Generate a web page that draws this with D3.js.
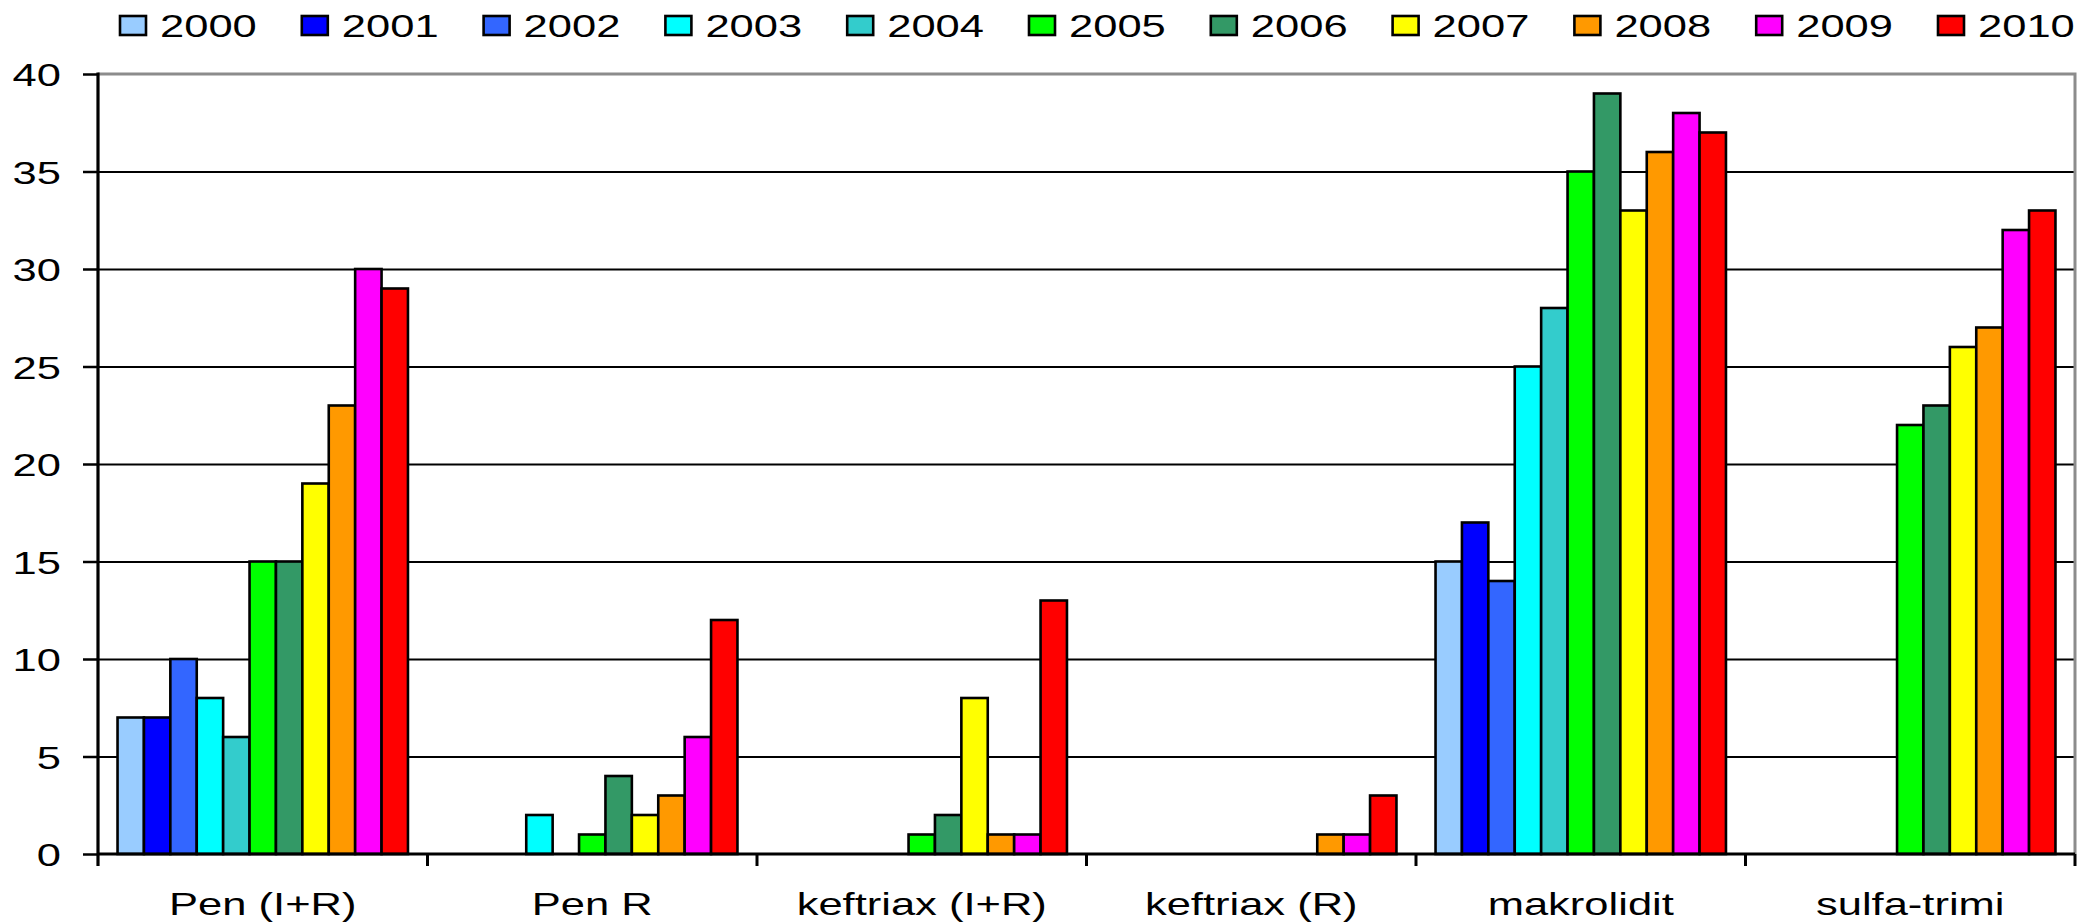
<!DOCTYPE html>
<html>
<head>
<meta charset="utf-8">
<script src="https://cdn.jsdelivr.net/npm/d3@7"></script>
<style>
  html, body { margin: 0; padding: 0; background: #fff; }
  svg { display: block; }
  text { font-family: "Liberation Sans", Arial, sans-serif; fill: #000; }
</style>
</head>
<body>
<svg id="chart" width="2078" height="922"></svg>
<script>
// ---- data ----
const categories = ["Pen (I+R)", "Pen R", "keftriax (I+R)", "keftriax (R)", "makrolidit", "sulfa-trimi"];
const years = ["2000", "2001", "2002", "2003", "2004", "2005", "2006", "2007", "2008", "2009", "2010"];
const yearColors = ["#99CCFF", "#0000FF", "#3366FF", "#00FFFF", "#33CCCC", "#00FF00", "#339966", "#FFFF00", "#FF9900", "#FF00FF", "#FF0000"];
const v2000 = [7, 0, 0, 0, 15, 0];
const v2001 = [7, 0, 0, 0, 17, 0];
const v2002 = [10, 0, 0, 0, 14, 0];
const v2003 = [8, 2, 0, 0, 25, 0];
const v2004 = [6, 0, 0, 0, 28, 0];
const v2005 = [15, 1, 1, 0, 35, 22];
const v2006 = [15, 4, 2, 0, 39, 23];
const v2007 = [19, 2, 8, 0, 33, 26];
const v2008 = [23, 3, 1, 1, 36, 27];
const v2009 = [30, 6, 1, 1, 38, 32];
const v2010 = [29, 12, 13, 3, 37, 33];
const seriesValues = [v2000, v2001, v2002, v2003, v2004, v2005, v2006, v2007, v2008, v2009, v2010];
const yTicks = [0, 5, 10, 15, 20, 25, 30, 35, 40];

// ---- layout ----
const plotLeft = 98, plotRight = 2075, plotTop = 74, plotBottom = 854;
const sx = 1.36; // horizontal stretch of the text in the original
const fontSize = 32;

const svg = d3.select("#chart");
svg.append("rect").attr("width", 2078).attr("height", 922).attr("fill", "#fff");

const x0 = d3.scaleBand().domain(categories).range([plotLeft, plotRight]).padding(0);
const x1 = d3.scaleBand().domain(years).range([0, x0.bandwidth()]).paddingInner(0).paddingOuter(0.74);
const y = d3.scaleLinear().domain([0, 40]).range([plotBottom, plotTop]);
const color = d3.scaleOrdinal().domain(years).range(yearColors);

// gridlines
const grid = svg.append("g").attr("transform", `translate(${plotLeft},0)`)
  .call(d3.axisLeft(y).tickValues(yTicks.filter(t => t > 0 && t < 40)).tickSize(-(plotRight - plotLeft)).tickFormat(""));
grid.select(".domain").remove();
grid.selectAll(".tick line").attr("stroke", "#000").attr("stroke-width", 2);

// plot border top & right (gray)
svg.append("path")
  .attr("d", `M${plotLeft},${y(40)}H${plotRight}V${y(0)}`)
  .attr("fill", "none").attr("stroke", "#8c8c8c").attr("stroke-width", 3);

// bars
const rows = [];
categories.forEach((c, ci) => {
  years.forEach((yr, yi) => {
    const v = seriesValues[yi][ci];
    if (v > 0) rows.push({ c, yr, v });
  });
});
svg.append("g").selectAll("rect").data(rows).join("rect")
  .attr("x", d => x0(d.c) + x1(d.yr))
  .attr("y", d => y(d.v))
  .attr("width", x1.bandwidth())
  .attr("height", d => y(0) - y(d.v))
  .attr("fill", d => color(d.yr))
  .attr("stroke", "#000")
  .attr("stroke-width", 2.6);

// y axis
const yAxis = svg.append("g").attr("transform", `translate(${plotLeft},0)`)
  .call(d3.axisLeft(y).tickValues(yTicks).tickSize(15).tickPadding(0));
yAxis.select(".domain").remove();
yAxis.selectAll(".tick line").attr("stroke", "#000").attr("stroke-width", 2.5);
yAxis.selectAll(".tick text")
  .attr("x", 0).attr("dy", null).attr("y", 11.5)
  .attr("text-anchor", "end")
  .attr("transform", `translate(-37,0) scale(${sx},1)`)
  .style("font-size", fontSize + "px")
  .style("font-family", "'Liberation Sans', Arial, sans-serif");
svg.append("line")
  .attr("x1", plotLeft).attr("x2", plotLeft)
  .attr("y1", y(40) - 1.5).attr("y2", y(0) + 12)
  .attr("stroke", "#000").attr("stroke-width", 3.2);

// x axis (labels at band centres)
const xAxis = svg.append("g").attr("transform", `translate(0,${plotBottom})`)
  .call(d3.axisBottom(x0).tickSize(0).tickPadding(0));
xAxis.select(".domain").remove();
xAxis.selectAll(".tick text")
  .attr("y", 0).attr("dy", null)
  .attr("transform", `translate(0,61) scale(${sx},1)`)
  .style("font-size", fontSize + "px")
  .style("font-family", "'Liberation Sans', Arial, sans-serif");
svg.append("line")
  .attr("x1", plotLeft).attr("x2", plotRight)
  .attr("y1", y(0)).attr("y2", y(0))
  .attr("stroke", "#000").attr("stroke-width", 3);
// category boundary ticks
const bounds = categories.map(c => x0(c)).concat([x0.range()[1]]);
svg.append("g").selectAll("line").data(bounds.slice(1)).join("line")
  .attr("x1", d => d).attr("x2", d => d)
  .attr("y1", y(0)).attr("y2", y(0) + 12)
  .attr("stroke", "#000").attr("stroke-width", 3);

// legend
const legendX = d3.scaleLinear().domain([0, years.length - 1]).range([120, 1938]);
const legend = svg.append("g").selectAll("g").data(years).join("g")
  .attr("transform", (d, i) => `translate(${legendX(i)},0)`);
legend.append("rect")
  .attr("x", 0).attr("y", 16).attr("width", 26).attr("height", 19)
  .attr("fill", d => color(d)).attr("stroke", "#000").attr("stroke-width", 2.6);
legend.append("text")
  .attr("transform", `translate(40,37) scale(${sx},1)`)
  .style("font-size", fontSize + "px")
  .text(d => d);
</script>
</body>
</html>
